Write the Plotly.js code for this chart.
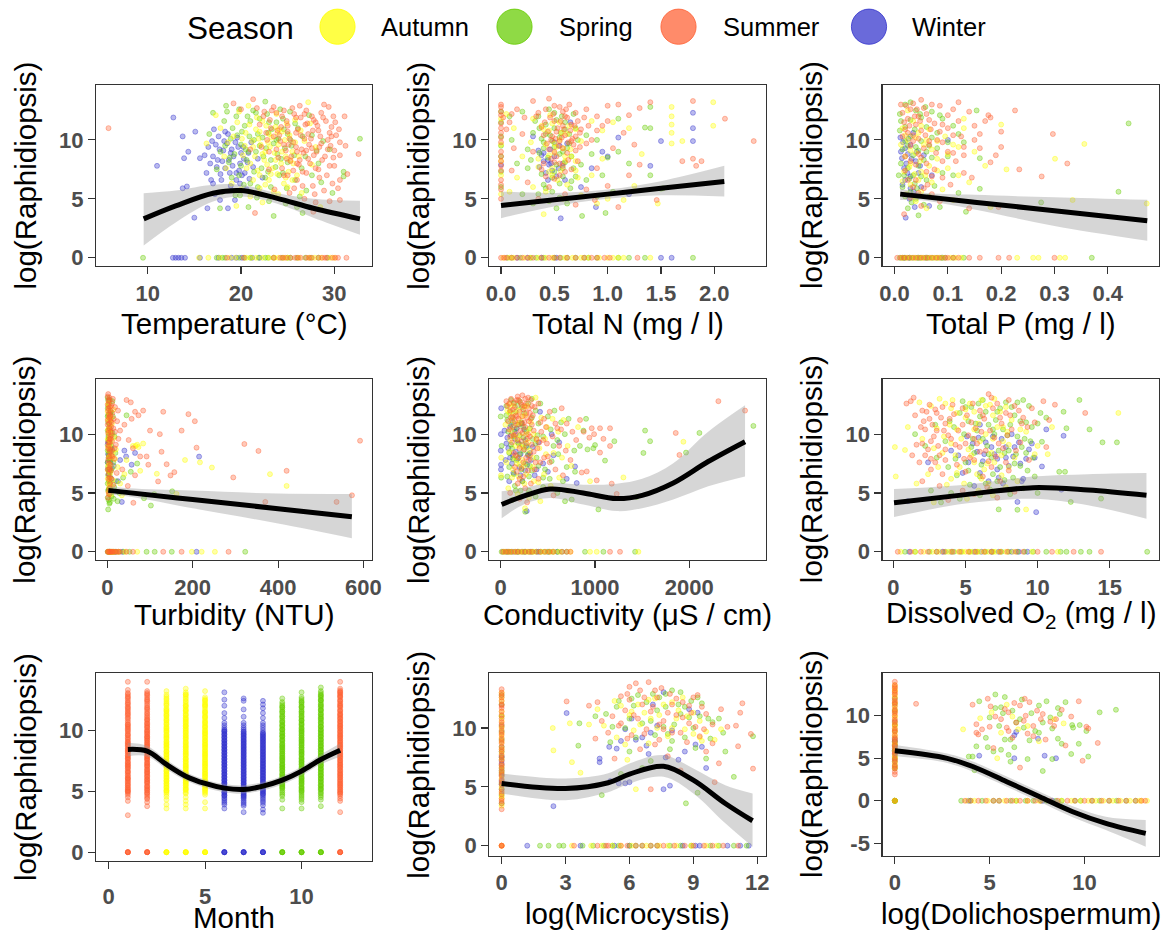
<!DOCTYPE html>
<html>
<head>
<meta charset="utf-8">
<script src="https://cdn.plot.ly/plotly-3.0.1.min.js"></script>
<style>
  html, body { margin: 0; padding: 0; background: #ffffff; }
  #chart { width: 1167px; height: 931px; }
</style>
</head>
<body>
<div id="chart"></div>
<script>
// ---------- Seasons ----------
const seasonNames = ["Autumn", "Spring", "Summer", "Winter"];

// ---------- Temperature (°C) ----------
const tempAutumn = [[27.2,13.2],[17.3,12.1],[19.5,4.4],[27.4,11.4],[17.8,11.0],[18.6,9.8],[19.6,11.5],[20.5,10.6],[21.2,9.9],[22.0,10.7],[22.6,9.0],[23.3,10.2],[24.0,9.6],[24.7,10.0],[25.5,9.0],[26.2,8.6],[20.2,8.7],[21.0,8.0],[21.8,7.4],[22.5,8.3],[23.4,7.6],[24.3,8.0],[25.1,7.3],[26.0,7.0],[19.0,6.3],[20.0,5.8],[21.0,5.2],[22.0,5.9],[23.0,6.6],[24.0,5.4],[25.0,6.0],[26.5,5.5],[18.4,7.6],[19.8,12.4],[23.8,12.2],[25.8,11.7],[28.0,9.4],[22.3,4.7],[27.6,7.9],[16.3,9.7],[18.2,8.6],[28.5,4.3],[20.8,12.9],
  [20.9,11.3],[21.6,10.9],[22.3,11.6],[23.0,10.5],[23.7,11.1],[24.4,10.7],[25.2,10.4],[21.3,9.4],[22.1,9.6],[22.9,9.8],[23.6,8.9],[24.4,9.0],[25.3,8.3],[20.6,7.6],[21.5,8.6],[22.8,7.9],[23.9,7.1],[24.8,6.8],[25.6,8.0],[21.3,6.6],[22.6,6.2],[23.5,5.6],[24.6,6.3],[26.8,9.9],[26.4,10.8],[20.1,10.1],
  [21.7,11.9],[22.7,11.2],[23.9,10.6],[24.9,11.4],[21.9,10.1],[23.1,9.4],[24.1,10.9],[25.8,9.8],[22.3,8.8],[23.7,8.3],[24.8,8.6],[22.0,7.0],[23.2,7.1],[25.5,6.6],[20.4,9.5],[19.2,10.3],
  [15.5,0],[16.5,0],[17.7,0],[18.8,0],[20.6,0],[21.6,0],[22.3,0],[23.0,0],[24.0,0],[25.0,0],[26.2,0],[27.3,0],[28.6,0],[29.6,0],[30.0,0],[19.4,0],[21.1,0],[23.6,0],[24.6,0],[27.9,0]];
const tempSpring = [[32.75,10.1],[31.0,7.3],[31.0,6.9],[23.5,3.55],[26.6,3.8],[20.8,4.3],[17.75,4.2],[22.6,13.25],[21.3,12.5],[25.25,12.4],[17.0,12.3],[18.2,11.6],[19.5,12.0],[20.4,11.2],[22.0,11.8],[23.8,11.5],[24.6,10.9],[26.1,11.0],[27.6,10.4],[28.8,9.9],[17.8,9.0],[18.9,10.1],[20.0,9.6],[21.4,10.0],[22.7,9.3],[23.9,8.8],[25.4,9.5],[26.9,8.6],[28.3,8.0],[29.5,9.2],[17.4,7.5],[18.7,8.1],[19.8,7.0],[21.0,6.3],[22.2,7.6],[23.2,6.0],[24.5,7.2],[25.8,6.6],[27.0,5.7],[28.6,6.4],[18.0,5.6],[19.4,5.3],[21.7,5.1],[23.0,4.8],[24.8,4.6],[26.3,5.2],[29.8,5.5],[16.6,10.5],[20.6,8.3],[22.9,10.6],[25.0,8.1],[27.3,12.1],[26.0,4.3],[24.2,12.6],
  [18.5,12.4],[19.1,11.0],[20.1,10.7],[21.0,11.6],[21.8,10.5],[22.8,12.2],[23.3,10.9],[24.0,10.1],[25.0,10.5],[25.8,11.4],[26.6,10.3],[18.3,9.5],[19.3,8.8],[20.5,9.2],[21.6,9.0],[22.4,8.6],[23.5,9.7],[24.3,8.4],[25.7,8.7],[26.5,7.6],[19.0,6.8],[20.3,6.2],[21.4,7.3],[22.6,6.8],[23.7,7.7],[24.9,5.9],[27.6,7.0],[20.9,5.6],[18.4,12.9],[28.1,9.1],
  [19.8,12.6],[20.7,12.0],[21.6,12.3],[23.0,11.5],[24.5,11.8],[19.6,10.4],[20.9,10.3],[22.3,10.2],[23.8,10.0],[25.3,10.0],[18.8,8.5],[20.8,9.0],[22.0,9.5],[23.2,8.3],[24.7,9.3],[20.0,7.8],[22.9,7.3],[24.1,7.0],[19.9,5.3],[21.8,6.0],
  [9.5,0],[17.4,0],[18.3,0],[19.8,0],[21.0,0],[21.9,0],[22.6,0],[23.5,0],[24.4,0],[25.3,0],[26.0,0],[26.9,0],[27.5,0],[28.3,0],[29.3,0],[18.0,0],[20.4,0],[22.9,0],[25.0,0]];
const tempSummer = [[5.8,11.0],[29.4,12.8],[31.1,12.0],[32.6,8.8],[29.7,11.1],[30.6,8.7],[30.6,6.6],[30.6,4.9],[21.3,13.45],[27.75,3.9],[21.5,3.8],[19.2,13.1],[20.0,12.6],[22.5,12.4],[23.5,12.8],[24.4,12.0],[25.5,12.7],[26.4,11.9],[27.8,11.7],[28.6,12.3],[22.0,11.3],[23.2,11.0],[24.1,10.4],[25.0,11.2],[25.9,10.6],[26.8,10.1],[27.7,10.8],[28.5,10.3],[29.3,10.0],[30.2,10.4],[24.6,9.6],[25.6,9.8],[26.5,9.2],[27.3,9.6],[28.1,9.0],[29.0,8.6],[30.0,9.1],[31.2,9.5],[23.0,9.0],[24.0,8.5],[25.3,8.2],[26.2,7.9],[27.2,8.4],[28.3,7.5],[29.2,7.0],[30.0,7.8],[24.6,7.0],[26.0,6.6],[27.7,6.1],[28.9,5.7],[30.4,5.9],[25.2,5.5],[26.8,5.0],[28.0,4.7],[29.5,4.8],[22.8,10.0],[21.0,9.2],[31.4,7.1],[23.6,5.8],[27.0,12.5],[29.9,12.0],
  [22.4,12.0],[23.1,11.7],[23.8,12.3],[24.9,11.6],[25.7,12.2],[26.3,12.9],[27.1,11.4],[28.2,11.2],[29.1,11.6],[30.1,11.5],[22.7,10.6],[23.5,10.3],[24.3,11.1],[25.2,10.1],[26.1,10.9],[26.9,11.3],[27.5,10.1],[28.3,10.8],[29.5,10.6],[30.5,10.9],[23.8,9.2],[24.8,9.1],[25.9,9.4],[26.7,8.9],[27.6,9.3],[28.6,9.7],[29.6,9.5],[30.6,9.8],[25.4,8.6],[26.3,8.3],[27.4,8.0],[28.7,8.3],[29.9,8.5],[24.4,7.6],[25.6,7.4],[27.0,7.2],[28.4,6.8],[29.8,6.3],[26.6,6.1],[27.9,5.4],[25.7,5.9],[23.0,7.5],[22.2,9.4],[21.7,12.7],[28.9,13.0],
  [23.3,12.5],[24.6,12.5],[25.9,11.9],[26.8,12.2],[27.6,12.0],[28.8,11.9],[23.9,10.8],[25.0,10.7],[26.4,10.4],[27.2,10.5],[28.0,11.5],[29.7,10.3],[24.2,9.9],[25.1,9.6],[26.0,9.0],[27.0,9.1],[28.4,9.4],[29.3,9.2],[24.9,8.4],[26.0,8.0],[27.8,8.7],[29.5,7.8],[25.0,7.0],[26.6,7.3],[28.0,7.6],
  [23.5,0],[24.2,0],[24.8,0],[25.3,0],[25.8,0],[26.4,0],[27.0,0],[27.6,0],[28.3,0],[28.7,0],[29.2,0],[29.8,0],[30.4,0],[31.3,0],[20.3,0],[18.5,0],[24.5,0],[26.1,0],[27.3,0],[29.0,0],[30.1,0]];
const tempWinter = [[12.75,11.9],[11.0,7.8],[13.75,10.3],[14.35,9.0],[15.1,10.7],[13.9,8.45],[15.6,8.45],[13.75,5.9],[14.2,6.05],[15.0,3.4],[16.4,4.2],[16.3,7.2],[17.0,6.3],[17.6,10.3],[18.5,9.7],[19.2,8.6],[19.9,8.0],[20.8,8.9],[18.8,7.2],[19.5,6.6],[17.75,4.9],[18.6,4.2],[17.4,7.7],[20.25,9.4],[21.3,7.7],[18.3,10.7],[17.0,8.6],[19.35,4.9],[20.4,7.2],[16.5,9.4],[18.0,8.2],[19.0,9.2],[21.8,8.4],[17.2,5.4],[20.6,5.8],[22.3,6.8],[16.8,6.6],[19.6,10.2],
  [16.9,9.9],[17.7,9.2],[18.2,9.9],[18.9,8.9],[19.4,9.8],[20.0,8.9],[20.7,8.1],[17.5,8.3],[18.3,7.6],[19.1,7.8],[19.8,7.4],[20.9,6.7],[17.9,6.6],[18.9,6.1],[19.9,6.3],[16.7,8.0],[21.1,9.8],[17.1,10.9],
  [17.3,9.6],[18.6,10.5],[19.7,9.4],[20.3,8.4],[18.1,9.1],[18.7,8.3],[19.5,7.2],[17.8,7.1],[20.1,7.0],[16.1,8.7],
  [12.7,0],[13.0,0],[13.3,0],[13.6,0],[14.0,0],[15.6,0],[17.6,0],[19.0,0],[19.5,0],[20.1,0],[21.2,0],[22.0,0]];
const tempFitX = [9.57, 13, 17, 20, 23.8, 27.75, 32.75];
const tempFit  = [3.3, 4.4, 5.48, 5.7, 5.06, 4.2, 3.3];
const tempLo   = [1.04, 3.0, 4.77, 5.2, 4.6, 3.4, 1.95];
const tempHi   = [5.48, 5.7, 6.19, 6.2, 5.5, 5.0, 4.83];

// ---------- Total N (mg / l) ----------
const nAutumn = [[0,9.6],[0,7.0],[1.99,13.2],[1.99,11.2],[1.7,9.9],[1.6,12.8],[1.6,12.0],[1.6,11.3],[1.6,10.6],[1.6,9.7],[1.47,4.6],[1.32,8.8],[0.4,3.7],[0.05,12.2],[0.12,11.0],[0.3,11.8],[0.45,10.8],[0.55,10.0],[0.65,9.2],[0.75,9.9],[0.85,11.6],[0.95,10.8],[1.05,11.5],[1.2,11.0],[0.2,8.6],[0.35,8.4],[0.48,7.6],[0.6,8.2],[0.7,7.4],[0.85,7.0],[0.15,6.8],[0.3,6.0],[0.42,5.6],[0.58,5.0],[0.75,5.3],[0.9,4.6],[1.0,5.0],[1.15,4.9],[0.08,5.6],[1.25,6.1],[0.5,9.7],[0.95,8.4],
  [0.38,11.2],[0.46,12.1],[0.55,11.5],[0.62,10.5],[0.7,10.9],[0.42,9.6],[0.5,8.9],[0.58,9.3],[0.66,8.6],[0.45,7.3],[0.53,6.6],[0.62,6.2],[0.35,7.7],[0.72,6.8],[0,11.8],[0,8.2],[0,5.4],[0.28,9.8],
  [0.4,10.9],[0.48,11.4],[0.57,10.6],[0.64,11.2],[0.45,8.7],[0.52,9.4],[0.6,8.6],[0.48,7.0],[0.56,7.4],[0.7,8.2],
  [0.02,0],[0.12,0],[0.22,0],[0.35,0],[0.42,0],[0.6,0],[0.75,0],[0.92,0],[1.05,0],[1.15,0],[1.4,0],[0.08,0],[0.27,0],[0.48,0],[0.67,0],[0.82,0],[1.0,0],[1.1,0]];
const nSpring = [[0,11.5],[0,8.6],[0,6.0],[1.5,5.85],[1.4,11.0],[1.35,11.05],[1.4,7.0],[0.98,3.8],[0.76,3.55],[1.4,12.8],[1.1,11.8],[0.2,12.4],[0.35,12.0],[0.42,11.3],[0.5,12.3],[0.6,11.5],[0.7,11.0],[0.8,10.4],[0.9,10.0],[1.0,8.5],[1.1,9.0],[0.3,10.6],[0.4,9.8],[0.5,9.4],[0.58,9.0],[0.66,8.6],[0.75,7.9],[0.85,8.8],[0.95,7.0],[0.1,10.0],[0.15,8.0],[0.25,7.6],[0.38,7.1],[0.48,6.8],[0.55,6.3],[0.65,5.9],[0.8,6.6],[0.9,5.2],[1.05,5.6],[0.2,5.4],[0.3,4.6],[0.45,4.8],[0.52,4.2],[0.62,4.6],[0.7,6.9],[1.2,8.0],[0.25,9.2],[0.08,12.0],[0.56,10.6],[1.52,5.9],
  [0.32,11.6],[0.45,12.6],[0.52,11.7],[0.6,10.9],[0.68,12.2],[0.38,10.1],[0.46,10.4],[0.55,10.2],[0.64,9.7],[0.72,10.0],[0.36,8.9],[0.44,8.5],[0.52,7.9],[0.6,8.1],[0.68,7.6],[0.4,6.2],[0.48,5.6],[0.58,6.9],[0.35,5.4],[0.28,8.3],[0,10.3],[0,12.4],[0,7.3],[0,9.5],
  [0.36,11.0],[0.42,10.5],[0.5,11.0],[0.57,12.0],[0.64,10.5],[0.4,9.3],[0.48,9.9],[0.55,8.8],[0.62,9.3],[0.5,7.3],[0.58,7.6],[0.66,6.5],[0.42,5.9],[0.55,5.1],
  [0.1,0],[0.18,0],[0.28,0],[0.4,0],[0.5,0],[0.62,0],[0.78,0],[0.9,0],[1.1,0],[1.35,0],[1.8,0],[0.06,0],[0.33,0],[0.56,0],[0.7,0],[0.82,0],[1.2,0]];
const nSummer = [[0,12.8],[0,12.1],[0,11.4],[0,10.6],[0,9.8],[0,9.0],[0,8.2],[0,7.4],[0,6.6],[0,5.8],[0,5.0],[0.02,11.9],
  [2.37,9.9],[2.1,11.8],[1.8,13.3],[1.8,8.4],[1.88,8.2],[1.83,7.8],[1.7,8.2],[1.46,4.9],[1.4,13.2],[1.3,12.7],[1.3,7.9],[1.1,4.3],[0.3,13.3],[0.45,13.5],[0.55,12.8],[0.62,11.9],[0.5,11.6],[0.58,11.2],[0.65,10.8],[0.7,12.3],[0.8,12.6],[0.9,12.0],[1.0,12.9],[1.1,13.0],[1.2,12.1],[0.48,10.3],[0.55,9.9],[0.6,10.4],[0.68,9.6],[0.75,10.9],[0.85,10.0],[0.95,11.2],[1.05,9.3],[1.15,10.6],[0.15,12.6],[0.22,11.9],[0.2,10.5],[0.12,9.3],[0.3,9.0],[0.4,8.0],[0.52,8.6],[0.6,7.3],[0.72,8.2],[0.9,7.6],[0.25,6.4],[0.45,6.0],[0.6,5.4],[0.8,5.8],[1.0,6.1],[0.35,5.0],[0.7,4.5],[0.88,4.9],[1.2,7.0],[0.1,7.4],[1.25,9.6],
  [0.35,12.3],[0.42,12.6],[0.5,12.9],[0.58,12.4],[0.64,13.0],[0.72,11.6],[0.38,11.1],[0.46,11.9],[0.53,11.0],[0.6,12.0],[0.66,11.3],[0.78,11.9],[0.4,10.4],[0.47,10.0],[0.52,10.7],[0.57,10.2],[0.63,9.8],[0.7,10.3],[0.8,9.7],[0.45,9.2],[0.54,9.5],[0.62,8.9],[0.7,9.1],[0.5,8.1],[0.58,7.8],[0.66,7.5],[0.42,6.9],[0.55,7.0],[0,13.0],[0,10.2],[0,8.6],[0,6.2],[0,11.0],[0,12.4],[0,7.8],[0.05,10.9],[0.1,12.2],[0.08,11.5],
  [0.33,12.0],[0.41,11.5],[0.49,12.2],[0.56,11.6],[0.61,12.6],[0.69,11.2],[0.44,10.7],[0.51,10.1],[0.59,10.9],[0.67,10.1],[0.74,10.6],[0.43,9.7],[0.5,9.0],[0.58,9.3],[0.66,9.9],[0.74,9.4],[0.47,8.4],[0.55,8.0],[0.63,8.3],[0.5,6.7],[0.38,7.5],[0.82,11.2],[0.9,10.8],[1.0,11.6],
  [0,0],[0.05,0],[0.1,0],[0.2,0],[0.3,0],[0.45,0],[0.55,0],[0.7,0],[0.85,0],[1.28,0],[0.97,0],[0.03,0],[0.15,0],[0.25,0],[0.38,0],[0.5,0],[0.62,0],[0.78,0],[0.9,0],[1.02,0]];
const nWinter = [[1.8,12.3],[1.8,11.0],[1.8,9.9],[1.5,9.9],[1.4,7.8],[0.89,4.3],[0.56,3.35],[0,7.9],[0.4,8.2],[0.45,7.9],[0.42,7.2],[0.5,8.6],[0.55,9.5],[0.6,6.6],[0.35,9.1],[0.95,9.0],[1.0,8.6],[1.1,10.2],[0.75,6.0],[0.85,7.6],[0.3,10.3],[1.2,5.4],[0.65,11.5],
  [0.38,8.7],[0.46,9.2],[0.48,7.4],[0.52,6.9],[0.58,8.0],[0.62,9.7],[0.44,6.6],[0.36,7.7],[0.4,8.9],[0.44,8.3],[0.5,9.8],[0.54,7.6],[0.47,8.0],
  [0.15,0],[0.25,0],[0.38,0],[0.52,0],[1.5,0],[1.6,0]];
const nFitX = [0, 0.5, 1.0, 1.5, 2.094];
const nFit  = [4.43, 4.92, 5.4, 5.89, 6.47];
const nLo   = [3.36, 4.35, 5.0, 5.3, 5.2];
const nHi   = [5.62, 5.5, 5.8, 6.5, 7.8];

// ---------- Total P (mg / l) ----------
const pAutumn = [[0.356,9.66],[0.301,8.4],[0.473,4.6],[0.334,4.9],[0.21,7.5],[0.2,11.3],[0.18,4.3],[0.015,11.0],[0.025,10.0],[0.035,11.6],[0.045,10.6],[0.055,9.6],[0.065,10.9],[0.08,9.9],[0.095,10.3],[0.11,9.6],[0.13,11.0],[0.15,9.0],[0.02,8.6],[0.03,8.0],[0.04,8.9],[0.05,7.3],[0.065,7.8],[0.08,8.4],[0.1,7.6],[0.12,7.0],[0.14,6.4],[0.015,6.5],[0.03,6.2],[0.05,5.6],[0.07,6.4],[0.09,5.8],[0.11,4.9],[0.04,4.8],[0.06,4.2],[0.13,11.8],[0.025,12.5],[0.17,7.8],
  [0.012,9.6],[0.02,10.4],[0.03,9.1],[0.04,10.2],[0.05,11.2],[0.06,10.0],[0.07,9.2],[0.018,7.3],[0.028,7.7],[0.038,7.1],[0.048,8.2],[0.058,7.0],[0.022,5.4],[0.035,5.2],[0.045,6.6],[0.08,7.4],[0.1,8.8],[0.12,9.4],
  [0.015,0],[0.03,0],[0.045,0],[0.06,0],[0.075,0],[0.09,0],[0.105,0],[0.125,0],[0.23,0],[0.26,0],[0.27,0],[0.31,0],[0.32,0],[0.022,0],[0.038,0],[0.052,0],[0.068,0],[0.082,0],[0.115,0]];
const pSpring = [[0.439,11.4],[0.42,5.6],[0.275,4.7],[0.134,3.9],[0.154,12.5],[0.16,8.45],[0.16,5.85],[0.01,12.2],[0.02,13.0],[0.03,13.2],[0.04,12.5],[0.05,11.9],[0.06,11.1],[0.07,12.4],[0.08,10.6],[0.09,11.8],[0.11,11.2],[0.12,10.5],[0.01,10.8],[0.02,9.9],[0.03,10.3],[0.04,9.4],[0.05,9.9],[0.06,9.0],[0.07,8.5],[0.08,9.3],[0.1,8.6],[0.012,8.0],[0.025,7.6],[0.035,7.0],[0.045,7.8],[0.06,6.6],[0.075,6.1],[0.09,7.2],[0.015,6.0],[0.03,5.6],[0.04,5.0],[0.055,4.5],[0.065,5.2],[0.085,4.3],[0.025,4.2],[0.045,3.6],[0.12,5.5],[0.11,7.0],[0.13,9.8],[0.008,7.0],
  [0.012,11.6],[0.02,11.1],[0.03,11.7],[0.038,10.9],[0.048,12.2],[0.058,12.8],[0.015,9.2],[0.025,9.5],[0.035,8.7],[0.045,9.1],[0.055,8.3],[0.065,9.5],[0.018,7.0],[0.028,6.7],[0.038,6.3],[0.05,6.9],[0.02,5.2],[0.032,4.7],[0.042,5.9],[0.07,10.2],[0.085,12.1],[0.1,9.8],
  [0.01,0],[0.02,0],[0.035,0],[0.05,0],[0.065,0],[0.08,0],[0.095,0],[0.11,0],[0.13,0],[0.37,0],[0.015,0],[0.028,0],[0.043,0],[0.058,0],[0.072,0],[0.088,0]];
const pSummer = [[0.297,10.5],[0.324,8.0],[0.276,6.9],[0.226,12.5],[0.234,7.5],[0.2,10.7],[0.19,8.7],[0.18,8.1],[0.176,12.1],[0.195,4.3],[0.14,4.2],[0.12,13.2],[0.17,11.6],[0.15,10.0],[0.13,9.4],[0.11,12.6],[0.1,11.0],[0.09,9.8],[0.085,12.9],[0.07,13.0],[0.06,12.2],[0.05,13.4],[0.045,12.0],[0.04,11.3],[0.03,12.6],[0.025,11.8],[0.02,10.9],[0.015,12.3],[0.035,10.4],[0.05,10.8],[0.065,9.9],[0.075,11.4],[0.085,10.7],[0.1,9.0],[0.115,8.2],[0.13,7.2],[0.145,6.8],[0.16,9.3],[0.125,10.3],[0.03,9.5],[0.045,8.8],[0.06,8.0],[0.075,7.5],[0.09,6.8],[0.02,7.4],[0.04,6.6],[0.055,5.9],[0.07,5.4],[0.085,4.8],[0.03,5.1],[0.05,4.4],[0.018,3.7],[0.105,6.2],[0.2,9.4],[0.18,11.9],
  [0.012,13.0],[0.022,12.9],[0.035,13.1],[0.042,12.6],[0.055,12.7],[0.065,11.7],[0.018,11.5],[0.028,11.2],[0.038,12.0],[0.048,11.6],[0.058,10.4],[0.068,10.9],[0.015,10.3],[0.025,10.6],[0.035,9.9],[0.045,10.1],[0.055,9.3],[0.065,9.6],[0.078,8.9],[0.02,8.6],[0.03,8.2],[0.04,7.9],[0.05,8.5],[0.06,7.3],[0.07,6.9],[0.025,6.6],[0.035,6.0],[0.045,5.5],[0.062,6.2],[0.08,10.0],[0.09,11.3],[0.1,12.1],[0.11,10.4],[0.12,11.6],[0.14,12.4],[0.15,11.2],[0.16,10.5],[0.13,8.7],[0.11,8.9],[0.09,8.2],
  [0.005,0],[0.012,0],[0.025,0],[0.04,0],[0.055,0],[0.07,0],[0.085,0],[0.1,0],[0.12,0],[0.16,0],[0.195,0],[0.215,0],[0.3,0],[0.018,0],[0.033,0],[0.048,0],[0.062,0],[0.078,0],[0.095,0],[0.11,0],[0.14,0]];
const pWinter = [[0.022,8.0],[0.02,9.3],[0.014,8.45],[0.021,3.4],[0.03,6.9],[0.036,5.6],[0.012,9.0],[0.018,7.6],[0.025,8.8],[0.03,9.6],[0.04,8.2],[0.015,6.2],[0.028,5.0],[0.045,7.2],[0.055,8.7],[0.065,4.4],[0.011,10.2],[0.035,10.6],[0.05,6.0],[0.1,10.0],[0.07,7.0],[0.038,4.3],
  [0.016,9.8],[0.024,7.2],[0.032,8.4],[0.042,9.0],[0.02,6.6],[0.03,5.9],[0.026,10.1],[0.048,7.8],
  [0.018,0],[0.028,0],[0.045,0],[0.06,0],[0.09,0]];
const pFitX = [0.0107, 0.05, 0.15, 0.3, 0.474];
const pFit  = [5.4, 5.21, 4.72, 3.99, 3.14];
const pLo   = [4.9, 4.88, 4.1, 2.7, 1.44];
const pHi   = [5.85, 5.54, 5.34, 5.14, 4.92];

// ---------- Turbidity (NTU) ----------
const turbAutumn = [[2,12.6],[4,11.5],[6,10.7],[3,10.0],[8,9.4],[5,8.9],[10,8.0],[2,7.3],[7,6.7],[12,6.1],[4,5.5],[9,4.9],[16,9.7],[20,8.7],[24,7.2],[14,12.1],
  [1,11.9],[3,12.3],[5,11.2],[2,10.4],[4,9.5],[7,10.1],[1,9.0],[3,8.6],[6,8.1],[2,6.9],[5,6.2],[8,5.6],[3,5.0],[11,10.9],[13,8.4],[18,7.9],
  [2,11.2],[4,10.3],[1,9.6],[3,8.0],[5,7.4],[1,6.2],[4,5.8],[6,9.1],[8,11.4],
  [420,5.6],[381,6.6],[245,7.16],[217,7.6],[182,7.8],[162,4.92],[116,6.63],[84,9.2],[73,8.9],[77,6.88],[34,4.8],[66,9.0],[70,9.1],[60,9.0],[30,5.8],[45,7.8],[40,6.6],
  [3,0],[10,0],[16,0],[25,0],[42,0],[70,0],[198,0],[252,0],[221,0],[5,0],[7,0],[13,0]];
const turbSpring = [[1,13.1],[3,12.4],[5,11.8],[2,11.0],[7,10.4],[4,9.6],[9,9.0],[3,8.3],[6,7.7],[11,7.1],[2,6.5],[8,5.9],[4,5.3],[10,4.7],[6,4.2],[2,3.6],[13,11.5],[17,9.8],[19,8.4],[21,6.0],[15,4.5],[12,12.8],
  [1,12.2],[4,12.6],[6,12.9],[2,11.6],[5,10.9],[8,11.3],[1,10.3],[3,9.9],[6,9.3],[1,8.6],[4,8.0],[7,8.5],[2,7.2],[5,6.8],[8,6.9],[1,5.8],[3,5.3],[6,4.9],[3,4.4],[9,11.9],[12,10.1],[14,7.6],[16,5.5],
  [2,12.9],[1,11.5],[4,10.6],[2,9.5],[5,8.7],[1,7.6],[3,6.9],[4,6.0],[2,5.2],[5,4.1],[1,4.6],[7,11.8],[8,10.1],[6,6.4],
  [152,5.14],[102,3.93],[45,11.6],[86,4.55],[37,6.3],[28,5.0],[24,4.3],[55,6.8],[70,7.5],[110,4.9],
  [2,0],[6,0],[11,0],[18,0],[27,0],[38,0],[52,0],[92,0],[111,0],[151,0],[323,0],[1,0],[4,0],[8,0],[15,0]];
const turbSummer = [[2,13.4],[4,12.9],[6,12.3],[3,11.7],[8,11.1],[5,10.5],[10,9.9],[2,9.3],[7,8.7],[12,8.1],[4,7.5],[9,6.9],[6,6.3],[14,5.7],[3,5.1],[11,12.6],[15,11.3],[18,10.2],[20,9.1],[16,7.9],[22,6.7],[25,12.0],[13,13.0],
  [1,12.5],[3,12.2],[5,13.1],[7,12.0],[9,12.4],[1,11.2],[4,10.9],[6,11.5],[8,10.2],[10,11.0],[2,10.1],[5,9.6],[7,9.8],[3,9.0],[6,8.5],[9,8.2],[2,7.8],[5,7.1],[8,7.4],[3,6.6],[6,5.8],[10,6.2],[4,4.9],[18,12.3],[23,11.1],[17,8.8],[26,9.6],[12,11.8],[14,10.5],[11,9.4],
  [1,13.2],[3,12.8],[2,12.0],[4,11.4],[1,10.8],[3,10.3],[5,9.3],[2,8.8],[4,8.1],[1,7.0],[3,6.2],[5,5.4],[2,4.6],[7,11.6],[9,10.6],[8,9.6],[11,8.6],[6,7.0],
  [592,9.44],[573,4.8],[537,4.24],[420,6.88],[370,4.24],[321,9.16],[354,8.57],[295,6.32],[209,8.85],[205,11.1],[190,11.7],[174,10.3],[157,6.77],[148,6.49],[131,11.9],[127,8.5],[139,7.44],[119,5.98],[123,10.0],[100,10.3],[96,7.4],[84,12.0],[73,11.6],[65,11.9],[57,11.3],[55,12.7],[45,12.9],[61,4.16],[65,6.5],[77,8.1],[92,8.1],[30,10.3],[40,10.8],[50,9.5],[35,7.0],[60,8.8],[48,5.6],
  [1,0],[4,0],[8,0],[14,0],[22,0],[30,0],[45,0],[60,0],[174,0],[284,0],[131,0],[2,0],[6,0],[10,0],[12,0],[18,0],[26,0]];
const turbWinter = [[3,9.8],[5,9.0],[2,8.3],[7,7.6],[4,7.0],[9,6.2],[6,5.4],[12,8.7],[15,7.3],
  [2,9.3],[4,8.6],[6,7.9],[3,6.6],[8,8.8],[5,6.1],[1,7.6],[1,9.1],[3,8.0],[2,7.0],[4,9.4],[5,8.3],
  [215,8.09],[65,8.4],[57,7.4],[44,8.1],[34,4.24],[30,7.8],[25,6.0],[40,8.6],
  [5,0],[20,0],[35,0],[209,0]];
const turbFitX = [2.4, 50, 200, 400, 572.8];
const turbFit  = [5.22, 5.03, 4.44, 3.66, 2.98];
const turbLo   = [4.86, 4.7, 3.7, 2.4, 1.15];
const turbHi   = [5.56, 5.4, 5.2, 4.95, 4.92];

// ---------- Conductivity (µS / cm) ----------
const condAutumn = [[1937,9.35],[1301,6.32],[665,11.2],[258,3.7],[947,6.0],[5,8.0],[3,6.5],[50,10.8],[90,11.8],[130,12.4],[190,12.0],[250,12.3],[370,13.1],[430,11.4],[490,10.6],[550,11.3],[610,10.2],[100,9.5],[160,9.0],[220,9.8],[290,9.3],[350,10.0],[410,8.8],[470,9.6],[560,8.4],[650,8.0],[710,9.0],[60,7.6],[130,7.0],[200,7.4],[270,6.6],[340,7.2],[400,5.9],[460,6.6],[530,5.6],[620,6.3],[710,5.2],[80,5.4],[180,4.9],[300,4.6],[420,4.3],[750,7.3],[820,10.6],
  [70,12.0],[120,11.2],[160,10.9],[220,11.5],[280,12.4],[320,11.0],[110,10.3],[170,9.6],[240,8.9],[300,10.4],[380,9.5],[90,8.5],[150,8.0],[230,7.8],[310,8.6],[190,6.4],[250,5.8],[350,6.0],[480,8.3],
  [90,12.5],[140,11.8],[200,11.0],[260,11.6],[130,9.9],[200,9.0],[270,10.0],[170,7.5],[250,7.3],[120,6.3],[340,8.0],
  [40,0],[120,0],[200,0],[280,0],[350,0],[430,0],[520,0],[620,0],[947,0],[1018,0],[1460,0],[80,0],[160,0],[240,0],[320,0],[480,0],[560,0],[740,0]];
const condSpring = [[2679,10.7],[1965,8.43],[2107,10.1],[1531,10.3],[1584,9.4],[1513,8.4],[1442,4.66],[1205,9.4],[1106,7.75],[1036,3.6],[1000,9.07],[982,8.8],[905,11.3],[877,10.3],[788,6.8],[753,4.44],[682,4.3],[0,11.5],[10,9.0],[5,6.3],[60,12.4],[110,12.9],[160,11.9],[230,12.3],[330,13.0],[420,12.6],[500,11.5],[570,12.0],[640,11.0],[80,10.2],[140,9.8],[190,10.8],[260,9.5],[310,10.5],[370,9.2],[450,9.8],[530,10.4],[600,9.5],[680,10.0],[720,11.3],[90,8.4],[170,7.8],[240,8.6],[310,7.3],[380,8.0],[470,7.0],[540,7.7],[610,8.3],[700,7.2],[780,8.6],[70,6.4],[150,5.6],[230,6.0],[300,5.2],[370,4.7],[450,5.5],[520,6.2],[600,5.0],[660,6.0],[120,4.4],[260,3.4],[840,9.0],[920,8.7],
  [60,11.6],[100,11.9],[140,12.6],[200,12.8],[250,11.8],[290,12.6],[370,12.0],[110,10.8],[150,10.4],[200,9.9],[240,10.6],[280,8.9],[340,9.6],[400,10.9],[120,8.8],[200,8.3],[260,7.5],[330,6.9],[400,7.3],[90,7.2],[140,6.6],[210,5.2],[290,4.9],[450,6.3],[560,9.0],
  [70,11.2],[130,11.4],[180,12.4],[220,11.0],[270,10.2],[330,11.4],[110,9.1],[180,9.3],[230,9.1],[290,8.3],[130,7.9],[220,7.0],[160,5.2],[300,6.4],[390,9.9],
  [10,0],[60,0],[110,0],[190,0],[260,0],[340,0],[420,0],[510,0],[600,0],[700,0],[894,0],[1089,0],[1425,0],[30,0],[90,0],[160,0],[230,0],[300,0],[380,0],[460,0],[550,0],[650,0]];
const condSummer = [[2308,12.8],[2591,12.0],[1856,10.1],[1895,8.23],[1159,8.99],[1177,5.79],[1230,4.92],[1089,9.6],[1159,10.5],[1053,8.43],[1053,10.5],[965,10.5],[990,10.0],[1018,6.07],[912,6.83],[841,11.2],[859,6.74],[647,12.2],[60,12.8],[100,12.0],[140,12.7],[180,13.2],[220,12.5],[260,13.0],[300,12.2],[340,11.6],[400,12.6],[460,11.3],[520,11.9],[580,10.9],[640,10.4],[700,10.9],[760,10.2],[80,11.1],[130,10.6],[170,11.5],[210,10.3],[250,11.0],[290,10.0],[330,10.8],[380,9.6],[430,10.2],[490,9.2],[550,9.8],[620,9.0],[690,8.6],[120,9.3],[200,8.8],[270,8.0],[350,8.5],[420,7.6],[500,8.1],[580,7.0],[660,6.5],[150,7.2],[240,6.4],[320,5.8],[400,6.2],[480,5.3],[560,4.8],[100,5.0],[200,4.5],[280,4.2],[740,7.8],[800,9.5],[880,10.2],[940,9.7],
  [70,12.4],[110,13.0],[150,12.3],[190,12.9],[230,13.3],[270,12.6],[320,12.9],[160,11.6],[200,11.9],[240,12.1],[280,11.4],[310,11.8],[360,12.3],[90,10.4],[120,11.5],[180,10.8],[230,11.5],[260,10.6],[300,11.1],[350,10.3],[420,11.0],[100,9.8],[160,10.0],[220,9.4],[280,9.6],[330,9.1],[390,8.8],[450,9.5],[140,8.4],[190,8.0],[250,8.7],[310,8.2],[370,7.6],[460,8.0],[170,6.8],[220,7.1],[290,6.9],[360,7.0],[520,7.6],[180,5.8],[260,5.4],[600,10.5],
  [90,12.6],[130,12.1],[170,12.9],[210,12.7],[250,12.4],[290,13.1],[330,12.4],[110,11.4],[150,11.1],[190,11.3],[230,10.9],[270,11.8],[320,11.3],[140,9.9],[180,9.5],[230,10.1],[270,9.2],[310,9.8],[160,8.2],[240,7.6],[300,7.8],[200,6.2],[410,9.3],[480,10.6],
  [20,0],[80,0],[150,0],[220,0],[300,0],[380,0],[470,0],[560,0],[650,0],[740,0],[1159,0],[1265,0],[50,0],[110,0],[180,0],[260,0],[330,0],[420,0],[520,0],[700,0]];
const condWinter = [[788,7.25],[806,5.84],[559,8.2],[417,11.9],[311,8.4],[276,3.46],[134,6.7],[170,10.5],[3,7.0],[3,7.4],[5,12.2],[2,10.0],[1,8.6],[60,9.2],[100,8.0],[150,9.6],[200,7.2],[230,6.0],[270,9.0],[320,7.8],[360,6.5],[400,9.3],[450,7.5],[500,6.8],[620,9.3],[700,6.2],[90,6.0],[130,11.0],[250,10.4],[540,10.0],
  [40,10.3],[80,8.8],[110,9.9],[160,8.5],[190,9.2],[220,10.9],[280,7.4],[340,8.9],[120,7.5],[210,6.5],[50,7.8],[380,7.0],
  [70,9.7],[100,10.6],[150,10.2],[130,8.2],[180,7.9],[240,9.7],[210,8.3],[290,8.2],[260,6.9],
  [70,0],[180,0],[250,0],[400,0],[600,0],[130,0],[320,0],[500,0]];
const condFitX = [10, 250, 523, 876, 1230, 1500, 1830, 2200, 2591];
const condFit  = [4.02, 4.75, 5.34, 5.0, 4.52, 4.8, 5.85, 7.67, 9.36];
const condLo   = [2.84, 4.05, 4.58, 4.02, 3.46, 3.7, 4.44, 5.56, 6.4];
const condHi   = [5.14, 5.45, 5.85, 5.7, 5.79, 6.2, 7.53, 10.2, 12.45];

// ---------- Dissolved O2 (mg / l) ----------
const o2Autumn = [[15.6,11.8],[9.2,3.6],[11.0,10.6],[10.7,8.3],[0.1,8.9],[0.16,6.4],[0.8,8.65],[1.8,12.7],[2.6,12.4],[3.2,13.0],[4.0,12.2],[5.0,11.4],[5.6,11.9],[6.4,12.4],[7.0,13.0],[7.6,10.6],[8.2,11.2],[9.2,10.2],[2.0,9.6],[2.8,8.8],[3.5,9.8],[4.3,8.2],[5.2,8.7],[6.0,9.4],[6.8,8.4],[7.6,9.4],[8.4,8.0],[9.8,8.3],[2.4,6.6],[3.1,7.2],[4.0,6.2],[4.9,5.8],[5.8,6.6],[6.6,5.8],[7.5,6.5],[8.6,6.0],[1.6,5.8],[2.8,4.2],[5.1,4.5],[6.9,4.8],[10.0,9.0],
  [3.6,12.6],[4.4,11.8],[5.3,12.6],[6.1,12.9],[6.9,11.6],[7.8,12.3],[3.0,10.5],[3.9,10.8],[4.7,9.6],[5.6,10.4],[6.4,10.0],[7.2,10.6],[8.0,9.1],[8.8,10.4],[3.4,8.4],[4.6,7.2],[5.6,7.6],[6.3,7.0],[7.0,7.6],[8.0,7.2],[3.7,5.7],[5.9,5.2],[7.8,5.5],[1.0,10.6],
  [4.1,12.9],[5.0,12.1],[6.7,12.5],[7.4,11.9],[4.4,10.4],[5.9,10.9],[6.9,9.6],[7.9,10.2],[4.0,9.2],[5.4,8.2],[6.5,7.5],[7.5,8.2],[4.4,6.7],[6.1,6.2],
  [0.5,0],[1.5,0],[2.7,0],[3.8,0],[4.5,0],[5.0,0],[5.5,0],[6.0,0],[6.6,0],[7.1,0],[7.8,0],[9.6,0],[11.4,0],[2.1,0],[3.2,0],[4.0,0],[4.8,0],[5.3,0],[5.8,0],[6.3,0],[6.9,0],[7.4,0],[8.3,0]];
const o2Spring = [[12.9,12.9],[11.8,11.9],[12.0,10.5],[13.6,10.4],[14.5,9.3],[15.5,9.3],[11.5,6.8],[11.9,6.8],[12.3,4.24],[14.4,4.52],[8.6,3.57],[10.3,9.35],[1.5,10.0],[2.2,9.0],[3.0,8.0],[3.6,9.4],[4.2,10.6],[4.8,12.8],[5.4,12.3],[6.0,11.5],[6.6,10.8],[7.2,11.9],[7.8,12.7],[8.4,11.6],[9.0,12.9],[9.6,10.6],[10.2,11.8],[3.8,7.2],[4.4,6.5],[5.0,7.6],[5.6,8.4],[6.2,9.6],[6.8,8.0],[7.4,7.2],[8.0,8.6],[8.6,9.8],[9.2,8.4],[9.8,6.4],[4.0,5.0],[4.6,4.5],[5.3,5.7],[6.0,4.8],[6.7,5.3],[7.3,3.6],[8.1,4.9],[9.0,5.4],[10.0,5.0],[2.6,5.2],[3.3,4.2],[5.8,10.3],[7.0,10.0],[8.8,7.3],
  [4.6,11.8],[5.2,11.1],[5.9,12.6],[6.4,11.9],[7.1,11.2],[7.6,10.4],[8.2,12.3],[8.8,11.1],[9.4,12.4],[10.0,10.9],[4.9,10.0],[5.5,9.6],[6.5,9.0],[7.3,8.6],[7.9,9.9],[8.5,8.3],[9.1,9.6],[9.7,8.0],[5.2,6.9],[6.1,7.4],[6.9,6.6],[7.7,6.1],[8.4,7.5],[9.3,6.9],[6.4,5.8],[7.9,5.3],[10.6,11.4],[3.9,11.1],[2.9,10.8],[4.3,7.9],
  [5.0,12.3],[6.2,12.9],[7.4,12.2],[8.6,12.7],[9.2,11.0],[5.7,10.9],[6.9,10.4],[8.1,10.8],[9.5,9.4],[5.4,8.9],[6.6,8.3],[7.7,8.4],[8.9,8.9],[6.0,6.4],[7.2,6.0],[8.3,6.3],
  [0.8,0],[2.5,0],[3.6,0],[4.7,0],[5.8,0],[6.9,0],[8.0,0],[9.1,0],[10.6,0],[11.6,0],[13.0,0],[13.6,0],[17.6,0],[1.5,0],[3.0,0],[4.2,0],[5.3,0],[6.4,0],[7.5,0],[8.6,0],[9.7,0],[12.0,0]];
const o2Summer = [[0.9,12.6],[1.4,13.1],[13.3,11.8],[10.4,12.8],[10.8,11.2],[10.6,8.9],[1.5,11.6],[2.0,12.0],[2.5,11.3],[3.0,11.8],[2.2,10.4],[2.8,9.8],[1.6,9.1],[2.4,8.7],[3.2,8.2],[1.8,7.6],[2.6,7.0],[3.4,6.6],[2.0,6.0],[3.6,10.9],[4.2,11.7],[4.8,12.2],[5.4,11.0],[6.0,12.0],[6.6,13.4],[7.2,12.6],[7.8,11.8],[8.4,12.4],[9.0,11.4],[9.6,12.2],[4.0,9.6],[4.6,8.9],[5.2,9.9],[5.8,9.2],[6.4,8.6],[7.0,9.7],[7.6,8.8],[8.2,10.4],[8.8,9.3],[4.4,7.4],[5.0,6.8],[5.6,7.8],[6.2,6.4],[6.8,7.2],[7.4,6.0],[8.0,6.9],[4.8,5.2],[5.6,4.9],[6.5,5.5],[7.2,4.6],[8.4,5.1],[3.8,4.4],[9.4,7.8],[11.2,12.5],[1.2,12.8],
  [2.3,11.9],[2.9,12.1],[3.3,11.4],[2.7,10.8],[3.5,10.3],[2.1,11.1],[1.9,10.6],[2.6,9.4],[3.1,9.0],[3.8,9.9],[2.2,8.2],[2.9,7.6],[3.6,7.8],[4.5,10.3],[5.1,11.6],[5.7,10.5],[6.3,11.3],[6.9,12.2],[7.5,10.9],[8.1,11.6],[8.7,12.0],[5.0,9.2],[6.1,10.2],[7.3,9.2],[8.5,8.6],[9.3,10.6],[5.3,8.0],[6.6,7.7],[7.8,7.6],[3.2,5.6],[1.3,8.2],[9.8,11.0],[6.8,13.1],[4.1,12.5],
  [2.5,12.5],[3.4,12.3],[2.0,9.2],[3.0,10.3],[3.9,11.3],[4.8,10.8],[5.5,12.6],[6.2,11.6],[7.4,11.4],[8.0,12.9],[4.3,9.1],[5.6,9.6],[6.7,10.3],[7.9,9.9],[8.9,10.9],[3.6,8.7],[4.9,7.9],[6.0,8.5],[7.1,8.1],[2.6,7.9],
  [0.3,0],[1.2,0],[1.9,0],[3.0,0],[4.1,0],[5.2,0],[6.3,0],[7.4,0],[8.5,0],[10.0,0],[12.5,0],[14.4,0],[2.4,0],[3.5,0],[4.6,0],[5.7,0],[6.8,0],[7.9,0],[9.0,0],[11.0,0]];
const o2Winter = [[11.8,9.86],[11.65,5.28],[10.3,7.25],[9.9,3.37],[8.6,4.24],[1.0,4.3],[2.4,7.6],[4.0,8.6],[4.8,6.7],[5.5,9.2],[6.2,7.7],[6.8,8.9],[7.2,7.0],[7.8,8.0],[8.4,8.9],[8.8,7.5],[9.4,8.7],[9.6,9.2],[5.6,5.6],[6.6,6.0],[7.6,5.8],[9.0,6.2],[10.6,10.4],[6.0,10.8],[8.2,10.0],
  [4.5,8.2],[5.2,7.6],[5.8,8.5],[6.4,9.3],[7.0,8.3],[7.5,9.6],[8.0,7.3],[8.7,9.3],[9.2,7.9],[6.0,6.7],[7.3,6.3],[5.1,9.8],[8.9,6.0],[9.8,8.0],
  [5.9,9.7],[6.9,9.8],[7.8,8.9],[8.3,8.1],[6.3,8.3],[7.2,7.9],
  [1.1,0],[3.4,0],[5.6,0],[6.8,0],[8.2,0],[9.3,0],[4.0,0],[6.1,0],[7.3,0],[8.7,0]];
const o2FitX = [0.04, 5, 9.68, 13.5, 17.55];
const o2Fit  = [4.16, 4.86, 5.45, 5.25, 4.8];
const o2Lo   = [2.95, 4.1, 4.5, 3.95, 2.81];
const o2Hi   = [5.34, 5.7, 6.4, 6.6, 6.69];

// ---------- Month ----------
const monthSeason = ["Summer","Summer","Autumn","Autumn","Autumn","Winter","Winter","Winter","Spring","Spring","Spring","Summer"];
const month1Y  = [13.96,13.3,13.05,12.8,12.6,12.3,12.1,11.85,11.5,11.3,11.05,10.8,10.5,10.25,9.95,9.7,9.4,9.2,8.9,8.65,8.35,8.1,7.8,7.55,7.25,7.0,6.7,6.45,6.1,5.9,5.6,5.3,5.0,4.85,4.5,4.2,3.03,
  12.95,12.45,11.95,11.65,11.2,10.65,10.35,10.05,9.55,9.05,8.75,8.5,8.2,7.95,7.65,7.4,7.1,6.85,6.6,6.3,6.0,5.7,5.45,5.15,4.95,4.7,
  12.7,12.2,11.75,11.4,10.95,10.45,10.15,9.85,9.6,9.3,9.0,8.8,8.45,8.25,7.9,7.7,7.35,7.15,6.9,6.55,6.25,6.05,5.8,5.5,5.25,5.05,0,0,0,0,0];
const month2Y  = [13.96,13.2,12.95,12.7,12.45,12.2,11.9,11.7,11.4,11.15,10.9,10.6,10.35,10.05,9.8,9.5,9.3,9.0,8.75,8.45,8.2,7.9,7.65,7.35,7.1,6.8,6.55,6.3,6.0,5.75,5.45,5.2,4.9,4.6,4.35,4.1,3.77,
  13.05,12.55,12.05,11.55,11.05,10.75,10.45,10.2,9.9,9.65,9.4,9.15,8.85,8.6,8.3,8.05,7.75,7.5,7.2,6.95,6.65,6.4,6.15,5.85,5.6,5.3,5.05,4.75,4.45,
  12.85,12.35,11.8,11.3,10.85,10.55,10.25,9.95,9.7,9.45,9.2,8.95,8.7,8.4,8.15,7.85,7.6,7.3,7.05,6.75,6.5,6.2,5.95,5.7,5.4,5.1,4.85,0,0,0,0,0];
const month3Y  = [13.2,12.9,12.6,12.35,12.1,11.8,11.55,11.3,11.0,10.75,10.45,10.2,9.95,9.65,9.4,9.1,8.85,8.6,8.3,8.05,7.8,7.5,7.25,7.0,6.7,6.45,6.2,5.9,5.65,5.4,5.1,4.9,4.55,4.3,3.9,3.58,
  12.75,12.2,11.7,11.4,11.15,10.9,10.6,10.3,10.05,9.8,9.5,9.25,8.95,8.7,8.45,8.2,7.9,7.65,7.4,7.1,6.85,6.6,6.3,6.05,5.8,5.5,5.25,5.0,4.75,
  12.5,12.0,11.6,11.2,10.8,10.5,10.15,9.9,9.6,9.35,9.05,8.8,8.55,8.25,8.0,7.7,7.45,7.2,6.95,6.65,6.4,6.1,5.85,5.6,5.3,5.05,0,0,0,0,0];
const month4Y  = [13.4,13.1,12.8,12.55,12.3,12.0,11.75,11.5,11.2,10.95,10.7,10.4,10.15,9.9,9.6,9.35,9.05,8.8,8.55,8.25,8.0,7.7,7.45,7.2,6.95,6.65,6.4,6.1,5.85,5.6,5.3,5.05,4.8,4.5,4.2,3.9,3.58,
  12.95,12.65,12.15,11.9,11.6,11.35,11.05,10.8,10.55,10.3,10.0,9.75,9.45,9.2,8.9,8.65,8.4,8.1,7.85,7.6,7.3,7.05,6.8,6.5,6.25,5.95,5.7,5.45,5.2,4.9,
  12.9,12.4,12.0,11.65,11.25,10.9,10.6,10.35,10.1,9.8,9.55,9.3,9.0,8.7,8.45,8.2,7.95,7.65,7.4,7.1,6.85,6.55,6.3,6.0,5.75,5.5,5.15,0,0,0,0,0];
const month5Y  = [13.2,12.7,12.4,12.15,11.9,11.6,11.35,11.1,10.8,10.55,10.3,10.0,9.75,9.5,9.2,8.95,8.7,8.4,8.15,7.9,7.6,7.35,7.1,6.8,6.55,6.3,6.0,5.75,5.5,5.2,4.95,4.7,4.1,3.58,
  12.55,12.25,12.0,11.75,11.45,11.2,10.95,10.7,10.4,10.15,9.85,9.6,9.35,9.05,8.8,8.55,8.25,8.0,7.75,7.45,7.2,6.95,6.65,6.4,6.15,5.85,5.6,5.35,5.05,4.85,
  12.45,12.05,11.5,11.05,10.6,10.25,9.95,9.7,9.4,9.15,8.85,8.6,8.35,8.05,7.8,7.55,7.25,7.0,6.75,6.45,6.2,5.9,5.65,5.4,5.15,0,0,0,0,0];
const month6Y  = [13.1,12.5,12.0,11.4,11.0,10.6,10.2,9.95,9.7,9.45,9.2,8.95,8.7,8.45,8.2,7.95,7.7,7.45,7.2,6.95,6.7,6.45,6.2,5.95,5.7,5.45,5.2,4.95,4.7,4.45,4.2,3.9,3.58,
  10.4,10.05,9.85,9.6,9.35,9.1,8.85,8.6,8.35,8.1,7.85,7.6,7.35,7.1,6.85,6.6,6.35,6.1,5.85,5.6,5.35,5.1,4.85,4.6,4.35,4.05,
  9.9,9.65,9.4,9.15,8.9,8.65,8.4,8.15,7.9,7.65,7.4,7.15,6.9,6.65,6.4,6.15,5.9,5.65,5.4,5.15,4.9,4.65,0,0,0,0,0];
const month7Y  = [12.6,12.4,11.7,11.1,10.6,10.2,9.9,9.65,9.4,9.15,8.9,8.65,8.4,8.15,7.9,7.65,7.4,7.15,6.9,6.65,6.4,6.15,5.9,5.65,5.4,5.15,4.9,4.65,4.4,4.1,3.8,3.28,
  10.4,10.05,9.75,9.5,9.25,9.0,8.75,8.5,8.25,8.0,7.75,7.5,7.25,7.0,6.75,6.5,6.25,6.0,5.75,5.5,5.25,5.0,4.75,4.5,4.25,3.95,
  9.85,9.6,9.35,9.1,8.85,8.6,8.35,8.1,7.85,7.6,7.35,7.1,6.85,6.6,6.35,6.1,5.85,5.6,5.35,5.1,4.85,4.6,0,0,0,0,0];
const month8Y  = [12.4,12.1,11.8,11.4,11.0,10.6,10.2,9.8,9.55,9.3,9.05,8.8,8.55,8.3,8.05,7.8,7.55,7.3,7.05,6.8,6.55,6.3,6.05,5.8,5.55,5.3,5.05,4.8,4.5,4.2,3.85,3.5,3.22,
  10.4,10.0,9.65,9.4,9.15,8.9,8.65,8.4,8.15,7.9,7.65,7.4,7.15,6.9,6.65,6.4,6.15,5.9,5.65,5.4,5.15,4.9,4.65,4.35,4.05,
  9.75,9.5,9.25,9.0,8.75,8.5,8.25,8.0,7.75,7.5,7.25,7.0,6.75,6.5,6.25,6.0,5.75,5.5,5.25,5.0,4.75,0,0,0,0,0];
const month9Y  = [12.6,12.3,12.0,11.7,11.4,11.1,10.8,10.5,10.25,10.0,9.7,9.45,9.2,8.9,8.65,8.4,8.1,7.85,7.6,7.3,7.05,6.8,6.5,6.25,6.0,5.7,5.45,5.2,4.9,4.6,4.3,3.58,
  12.15,11.85,11.55,11.25,10.95,10.65,10.35,10.1,9.85,9.55,9.3,9.05,8.75,8.5,8.25,7.95,7.7,7.45,7.15,6.9,6.65,6.35,6.1,5.85,5.55,5.3,5.05,4.75,
  11.9,11.5,11.1,10.7,10.4,10.05,9.75,9.5,9.15,8.85,8.6,8.3,8.05,7.75,7.5,7.2,6.95,6.7,6.4,6.15,5.9,5.6,5.35,0,0,0,0,0];
const month10Y = [13.1,12.7,12.4,12.1,11.85,11.55,11.3,11.0,10.75,10.5,10.2,9.95,9.7,9.4,9.15,8.9,8.6,8.35,8.1,7.8,7.55,7.3,7.0,6.75,6.5,6.2,5.95,5.7,5.4,5.15,4.9,4.6,4.3,4.1,3.58,
  12.55,12.25,11.95,11.7,11.4,11.15,10.85,10.6,10.35,10.05,9.8,9.55,9.25,9.0,8.75,8.45,8.2,7.95,7.65,7.4,7.15,6.85,6.6,6.35,6.05,5.8,5.55,5.25,5.0,4.75,4.45,
  12.3,11.9,11.5,11.1,10.8,10.45,10.15,9.9,9.6,9.35,9.1,8.8,8.55,8.25,8.0,7.7,7.45,7.2,6.9,6.65,6.4,6.1,5.85,5.6,5.3,5.05,0,0,0,0,0];
const month11Y = [13.5,13.2,12.9,12.65,12.4,12.1,11.85,11.6,11.3,11.05,10.8,10.5,10.25,10.0,9.7,9.45,9.2,8.9,8.65,8.4,8.1,7.85,7.6,7.3,7.05,6.8,6.5,6.25,6.0,5.7,5.45,5.2,4.9,4.65,4.3,3.77,
  13.05,12.75,12.5,12.25,11.95,11.7,11.45,11.15,10.9,10.65,10.35,10.1,9.85,9.55,9.3,9.05,8.75,8.5,8.25,7.95,7.7,7.45,7.15,6.9,6.65,6.35,6.1,5.85,5.55,5.3,5.05,4.8,4.5,
  12.85,12.45,12.05,11.65,11.3,10.95,10.6,10.3,10.0,9.75,9.5,9.2,8.95,8.7,8.4,8.15,7.9,7.6,7.35,7.1,6.8,6.55,6.3,6.0,5.75,5.45,5.15,0,0,0,0,0];
const month12Y = [13.96,13.4,13.15,12.9,12.65,12.35,12.1,11.85,11.55,11.3,11.05,10.75,10.5,10.25,9.95,9.7,9.45,9.15,8.9,8.65,8.35,8.1,7.85,7.55,7.3,7.05,6.75,6.5,6.25,5.95,5.7,5.45,5.15,4.9,4.6,4.2,3.28,
  13.25,13.0,12.75,12.5,12.2,11.95,11.7,11.4,11.15,10.9,10.6,10.35,10.1,9.8,9.55,9.3,9.0,8.75,8.5,8.2,7.95,7.7,7.4,7.15,6.9,6.6,6.35,6.1,5.8,5.55,5.3,5.0,4.75,4.4,
  13.1,12.8,12.4,12.0,11.6,11.25,10.95,10.7,10.4,10.15,9.9,9.6,9.35,9.1,8.8,8.55,8.3,8.0,7.75,7.5,7.2,6.95,6.7,6.4,6.15,5.9,5.6,5.35,5.1,4.85,0,0,0,0,0];
const monthFitX = [1,2,3,4,5,6,7,8,9,10,11,12];
const monthFit  = [8.42,8.28,7.19,6.23,5.63,5.25,5.14,5.41,5.9,6.64,7.6,8.36];
const monthLo   = [7.87,7.85,6.8,5.88,5.3,4.92,4.8,5.07,5.55,6.28,7.2,7.82];
const monthHi   = [8.97,8.71,7.58,6.58,5.96,5.58,5.48,5.75,6.25,7.0,8.0,8.9];

// ---------- log(Microcystis) ----------
const microAutumn = [[0,13.0],[0,11.4],[0,10.0],[0,8.8],[0,7.3],[0,6.0],[0,4.5],[0,3.4],[0,12.6],[0,11.0],[0,9.5],[0,8.2],[0,6.8],[0,5.0],[0,4.0],[0,12.3],[0,10.6],[0,9.2],[0,7.8],[0,6.4],[0,5.7],[0,4.2],
  [3.2,10.4],[2.4,10.0],[2.43,8.1],[3.3,7.1],[3.7,6.2],[4.1,10.3],[6.3,4.8],[5.6,11.9],[6.4,12.0],[7.0,10.8],[7.6,12.0],[8.3,11.5],[9.0,11.3],[9.6,9.7],[5.4,9.2],[6.2,9.8],[6.9,8.7],[7.8,9.3],[8.6,9.9],[9.4,8.9],[10.3,9.9],[4.8,10.2],[6.7,11.3],[8.0,10.0],[5.9,7.3],
  [5.3,12.3],[6.1,11.4],[6.9,12.4],[7.4,11.1],[8.0,12.2],[8.7,11.0],[9.3,10.6],[6.5,10.3],[7.3,10.0],[8.2,10.8],[9.0,9.5],[5.8,8.6],[10.0,9.0],[4.5,11.6],[6.0,11.1],[7.2,12.5],[8.5,12.6],[9.3,9.2],
  [0,0],[0,0],[3.3,0],[4.2,0],[5.2,0],[6.1,0],[6.8,0],[7.8,0],[8.9,0],[10.1,0],[4.7,0],[5.6,0],[7.4,0],[8.2,0],[9.6,0]];
const microSpring = [[0,12.0],[0,10.2],[0,8.0],[0,6.6],[0,5.3],[0,3.6],[0,11.0],[0,9.0],[0,7.5],[0,4.8],[0,12.8],[0,9.7],[0,8.4],[0,6.2],[0,4.3],
  [3.65,10.4],[3.6,8.5],[4.7,4.3],[8.65,3.6],[9.2,4.5],[11.8,9.3],[10.4,9.6],[10.9,5.85],[8.4,13.05],[4.9,11.2],[5.4,11.8],[6.2,11.9],[6.8,12.2],[7.4,12.6],[8.0,13.2],[8.9,12.3],[9.3,11.0],[9.7,10.8],[5.8,10.0],[6.6,10.4],[7.2,9.4],[8.1,10.3],[8.6,9.2],[9.1,8.3],[9.6,7.4],[5.1,8.8],[6.0,8.0],[7.0,7.2],[7.9,8.2],[5.6,6.1],[6.6,6.6],[10.5,8.0],[8.8,10.9],[7.7,11.8],
  [5.5,12.3],[6.4,12.8],[7.1,12.9],[7.7,12.9],[8.3,12.0],[9.4,12.1],[6.0,10.8],[7.0,10.6],[7.6,10.1],[8.4,11.2],[9.0,10.0],[9.9,10.5],[5.2,10.1],[6.3,9.2],[8.0,8.9],[9.8,9.1],[4.4,11.0],[10.2,10.8],[6.1,12.5],[7.3,11.5],[8.6,11.8],[9.2,12.6],[7.8,9.5],
  [1.8,0],[2.2,0],[2.7,0],[2.9,0],[3.8,0],[4.8,0],[5.5,0],[6.0,0],[6.6,0],[7.3,0],[8.4,0],[9.8,0],[10.9,0],[11.5,0],[4.3,0],[5.2,0],[6.3,0],[7.0,0],[7.9,0],[8.9,0],[10.2,0]];
const microSummer = [[0,13.3],[0,12.8],[0,12.3],[0,11.7],[0,11.1],[0,10.5],[0,9.8],[0,9.1],[0,8.4],[0,7.7],[0,7.0],[0,6.3],[0,5.6],[0,4.8],[0,4.0],[0,3.1],
  [0,13.0],[0,12.0],[0,10.8],[0,10.1],[0,9.4],[0,8.7],[0,8.0],[0,7.3],[0,6.6],[0,5.9],[0,5.2],[0,4.4],[0,3.6],
  [0,12.6],[0,11.9],[0,11.4],[0,10.3],[0,9.6],[0,8.9],[0,8.2],[0,7.5],[0,6.8],[0,6.1],[0,5.4],[0,4.6],[0,3.8],
  [3.05,12.26],[4.1,11.9],[4.4,9.1],[7.0,4.8],[11.3,12.1],[11.2,11.3],[11.7,9.5],[11.8,6.55],[11.1,8.45],[10.6,10.1],[9.9,10.3],[10.0,5.4],[6.3,13.8],[6.9,13.9],[5.6,12.7],[6.0,12.4],[6.5,13.2],[7.3,12.6],[7.9,12.9],[8.5,12.2],[9.0,12.6],[9.4,11.8],[5.2,11.0],[5.8,11.5],[6.4,10.8],[7.0,11.4],[7.6,10.6],[8.2,11.1],[8.8,10.4],[9.5,9.9],[5.0,9.6],[5.5,10.2],[6.1,9.4],[6.8,9.9],[7.4,9.0],[8.0,9.6],[8.7,8.8],[9.3,9.3],[4.7,10.6],[6.5,8.2],[7.8,7.6],[9.6,8.0],[5.3,7.4],[7.2,8.6],[10.2,7.0],[8.4,6.4],
  [5.9,12.9],[6.7,12.6],[7.5,13.4],[8.2,12.5],[8.8,11.9],[9.2,12.8],[6.2,11.1],[7.1,11.8],[7.8,11.3],[8.5,10.9],[9.1,10.1],[9.6,11.2],[5.6,10.4],[6.7,9.5],[7.6,9.9],[8.4,9.6],[9.9,8.7],[4.5,12.2],[10.3,11.6],[11.0,10.2],
  [6.0,13.5],[7.2,13.2],[8.0,12.0],[6.6,12.0],[8.9,11.3],[7.4,10.3],[5.9,9.1],
  [0,0],[0,0],[0,0],[3.4,0],[4.5,0],[5.0,0],[5.6,0],[6.3,0],[7.0,0],[7.6,0],[8.1,0],[9.5,0],[10.4,0],[4.9,0],[5.9,0],[6.6,0],[7.3,0],[8.6,0],[9.0,0],[9.9,0],[11.1,0]];
const microWinter = [[0,7.2],[0,6.4],[0,5.5],[0,6.9],[0,6.0],[0,7.6],[0,5.2],
  [3.05,11.27],[2.43,3.36],[4.6,7.4],[5.05,8.4],[5.4,8.25],[5.5,5.3],[5.8,5.3],[6.0,5.4],[7.6,4.8],[7.9,5.1],[7.6,13.05],[5.8,9.9],[6.3,9.0],[6.8,8.5],[7.3,10.2],[7.7,7.5],[8.3,7.3],[8.8,11.6],[9.1,8.6],[9.4,8.4],[9.6,6.6],[7.1,12.0],[4.6,7.1],[6.1,10.8],
  [6.6,9.2],[7.0,9.6],[5.6,8.9],[8.0,9.8],[8.6,8.0],[9.2,11.3],[6.9,7.8],[5.1,5.5],
  [1.2,0],[3.7,0],[5.3,0],[9.1,0],[9.3,0],[11.2,0],[11.6,0],[6.0,0],[8.5,0],[10.6,0]];
const microFitX = [0, 3, 5, 6, 7.6, 9, 10.5, 11.78];
const microFit  = [5.29, 4.86, 5.35, 6.08, 6.75, 5.57, 3.59, 2.12];
const microLo   = [4.44, 3.87, 4.55, 5.29, 5.85, 4.44, 1.9, -0.1];
const microHi   = [6.13, 5.71, 6.15, 6.98, 7.69, 6.56, 5.14, 4.44];

// ---------- log(Dolichospermum) ----------
const doliAutumn = [[0,13.6],[0,12.9],[0,12.2],[0,10.8],[0,10.0],[0,8.5],[0,7.7],[0,6.2],[0,5.4],[0,3.9],[0,13.3],[0,11.6],[0,10.4],[0,9.0],[0,8.1],[0,6.8],[0,5.8],[0,4.4],
  [0,13.0],[0,12.5],[0,11.2],[0,9.8],[0,8.8],[0,7.4],[0,6.6],[0,5.1],
  [3.6,8.4],[4.5,9.7],[5.4,5.0],[5.9,11.3],[8.9,9.1],[6.5,8.4],[7.6,7.0],[5.1,10.4],[6.2,9.9],[7.0,8.8],[8.4,9.6],[5.6,8.0],
  [0,0],[0,0],[4.2,0],[5.8,0],[7.0,0],[8.8,0],[9.8,0],[10.6,0],[11.5,0],[12.4,0],[13.0,0],[3.8,0],[4.9,0],[6.4,0],[7.6,0],[9.3,0],[10.2,0],[11.0,0],[11.9,0],[12.9,0],[13.3,0]];
const doliSpring = [[0,12.0],[0,9.3],[0,7.0],[0,4.6],[0,3.8],[0,10.6],[0,8.2],[0,5.2],[0,4.1],[0,11.4],[0,8.9],[0,6.5],[0,5.9],[0,4.9],
  [3.9,5.2],[4.1,5.2],[4.2,3.6],[4.45,11.7],[5.3,12.5],[4.3,6.4],[5.6,6.0],[6.1,4.6],[7.0,4.9],[8.0,11.7],[7.8,3.5],[8.6,10.9],[9.0,11.6],[9.35,8.9],[9.75,8.9],[10.1,8.2],[10.2,5.2],[11.66,10.7],[8.6,7.3],[5.0,9.8],[5.5,8.8],[5.8,7.2],[6.3,6.3],[6.6,9.6],[7.1,7.1],[7.4,8.2],[7.8,9.2],[8.3,8.5],[8.8,6.7],[9.3,5.5],[5.6,11.0],[6.2,10.6],[7.2,10.3],[6.0,5.4],
  [5.3,10.9],[5.7,10.3],[6.4,9.2],[6.8,8.6],[7.6,8.0],[8.2,9.8],[8.7,10.2],[9.4,8.6],[6.1,7.2],[5.2,5.8],[4.9,6.3],[8.3,4.9],[10.8,10.4],[5.8,12.2],[6.7,11.9],[9.7,6.7],[4.8,7.4],[7.6,11.2],
  [0,0],[0,0],[0,0],[0,0],[0,0],[0,0],[3.5,0],[4.0,0],[5.5,0],[6.1,0],[6.9,0],[7.7,0],[8.0,0],[8.5,0],[9.5,0],[10.4,0],[11.3,0],[12.2,0],[4.6,0],[5.2,0],[6.4,0],[7.3,0],[8.8,0],[9.8,0],[10.8,0],[11.7,0],[12.7,0]];
const doliSummer = [[0,14.0],[0,13.2],[0,12.5],[0,11.8],[0,11.1],[0,10.3],[0,9.6],[0,8.9],[0,8.1],[0,7.4],[0,6.6],[0,5.8],[0,5.0],[0,4.2],[0,3.4],
  [0,13.6],[0,12.9],[0,12.1],[0,11.4],[0,10.7],[0,10.0],[0,9.2],[0,8.5],[0,7.7],[0,7.0],[0,6.2],[0,5.4],[0,4.6],[0,3.8],[0,3.1],
  [0,13.4],[0,12.7],[0,11.6],[0,10.5],[0,9.4],[0,8.3],[0,7.2],[0,6.4],[0,5.6],[0,4.8],[0,4.0],
  [1.12,11.4],[4.1,11.3],[4.9,12.0],[5.05,11.1],[4.3,8.0],[4.6,8.4],[5.2,6.2],[6.6,3.9],[6.85,12.0],[7.95,7.2],[8.8,10.7],[9.7,11.7],[10.1,8.7],[9.9,4.7],[10.7,6.8],[9.0,6.5],[5.6,9.6],[6.0,10.4],[6.4,9.2],[6.9,10.0],[7.3,8.8],[7.7,9.6],[6.2,7.4],[7.0,7.9],[5.9,8.6],[6.6,11.2],[7.5,10.6],[8.2,9.3],[5.3,9.9],[4.4,7.8],
  [5.8,10.8],[6.3,11.5],[7.1,11.6],[7.8,10.2],[8.4,8.8],[6.8,9.4],[6.0,8.2],[7.3,7.6],[8.5,9.6],[9.3,9.9],[4.3,9.0],[5.0,8.7],[10.2,8.5],
  [0,0],[3.7,0],[4.4,0],[4.8,0],[5.2,0],[5.9,0],[6.6,0],[7.4,0],[8.2,0],[9.1,0],[10.0,0],[10.9,0],[11.8,0],[12.7,0],[13.2,0],[4.0,0],[5.5,0],[6.2,0],[7.0,0],[7.7,0],[8.6,0],[9.5,0],[10.4,0],[11.3,0],[12.2,0],[13.0,0]];
const doliWinter = [[0,7.0],[0,6.5],[0,5.6],[0,7.3],[0,6.1],[0,6.8],[0,5.9],
  [4.45,5.3],[6.3,5.0],[6.4,8.1],[7.55,7.3],[7.9,5.3],[8.5,5.0],[6.3,7.7],
  [3.9,0],[7.8,0],[8.3,0]];
const doliFitX = [0, 2.76, 4.14, 5.9, 7.64, 9.38, 11.13, 13.23];
const doliFit  = [5.88, 4.99, 4.0, 2.24, 0.47, -1.29, -2.66, -3.84];
const doliLo   = [5.26, 4.45, 3.41, 1.65, -0.12, -1.95, -3.45, -5.41];
const doliHi   = [6.55, 5.55, 4.59, 2.85, 1.06, -0.65, -1.88, -2.27];

// ---------- Axis labels ----------
const yTitle = "log(Raphidiopsis)";
const xTitles = ["Temperature (°C)", "Total N (mg / l)", "Total P (mg / l)",
                 "Turbidity (NTU)", "Conductivity (μS / cm)", "Dissolved O<sub>2</sub> (mg / l)",
                 "Month", "log(Microcystis)", "log(Dolichospermum)"];
const ticksTempX  = [10, 20, 30];
const ticksNX     = [0, 0.5, 1, 1.5, 2];
const ticksPX     = [0, 0.1, 0.2, 0.3, 0.4];
const ticksTurbX  = [0, 200, 400, 600];
const ticksCondX  = [0, 1000, 2000];
const ticksO2X    = [0, 5, 10, 15];
const ticksMonthX = [0, 5, 10];
const ticksMicroX = [0, 3, 6, 9, 12];
const ticksDoliX  = [0, 5, 10];
const ticksY      = [0, 5, 10];
const ticksDoliY  = [-5, 0, 5, 10];
const ticksDoliYText = ["-5", "0", "5", "10"];

// ---------- Build month points by season ----------
const monthYs = [month1Y, month2Y, month3Y, month4Y, month5Y, month6Y, month7Y, month8Y, month9Y, month10Y, month11Y, month12Y];
const monthPts = {Autumn: [], Spring: [], Summer: [], Winter: []};
monthYs.forEach((ys, i) => ys.forEach(y => monthPts[monthSeason[i]].push([i + 1, y])));

// ---------- Styling / geometry ----------
const W = 1167, H = 931;
const FONT = "Liberation Sans, Arial, Helvetica, sans-serif";
const seasonRGB = {Autumn: "255,255,0", Spring: "102,204,0", Summer: "255,96,51", Winter: "51,51,204"};
const px = v => v / W;
const py = v => 1 - v / H;

const COLS = [[96, 372], [489.3, 766], [882.5, 1159]];
const panels = [
  {col: 0, y: [85, 266], xr: [4.46, 34.04], yr: [-0.698, 14.66], xt: ticksTempX, yt: ticksY, titleY: 323.5,
   pts: {Autumn: tempAutumn, Spring: tempSpring, Summer: tempSummer, Winter: tempWinter}, fit: [tempFitX, tempFit, tempLo, tempHi]},
  {col: 1, y: [85, 266], xr: [-0.11, 2.485], yr: [-0.698, 14.66], xt: ticksNX, xfmt: ".1f", yt: ticksY, titleY: 323.5,
   pts: {Autumn: nAutumn, Spring: nSpring, Summer: nSummer, Winter: nWinter}, fit: [nFitX, nFit, nLo, nHi]},
  {col: 2, y: [85, 266], xr: [-0.0225, 0.496], yr: [-0.698, 14.66], xt: ticksPX, xfmt: ".1f", yt: ticksY, titleY: 323.5,
   pts: {Autumn: pAutumn, Spring: pSpring, Summer: pSummer, Winter: pWinter}, fit: [pFitX, pFit, pLo, pHi]},
  {col: 0, y: [379.3, 560], xr: [-26.5, 620], yr: [-0.698, 14.66], xt: ticksTurbX, yt: ticksY, titleY: 614,
   pts: {Autumn: turbAutumn, Spring: turbSpring, Summer: turbSummer, Winter: turbWinter}, fit: [turbFitX, turbFit, turbLo, turbHi]},
  {col: 1, y: [379.3, 560], xr: [-121, 2813], yr: [-0.698, 14.66], xt: ticksCondX, yt: ticksY, titleY: 614,
   pts: {Autumn: condAutumn, Spring: condSpring, Summer: condSummer, Winter: condWinter}, fit: [condFitX, condFit, condLo, condHi]},
  {col: 2, y: [379.3, 560], xr: [-0.76, 18.42], yr: [-0.698, 14.66], xt: ticksO2X, yt: ticksY, titleY: 614,
   pts: {Autumn: o2Autumn, Spring: o2Spring, Summer: o2Summer, Winter: o2Winter}, fit: [o2FitX, o2Fit, o2Lo, o2Hi]},
  {col: 0, y: [673.3, 860.7], xr: [-0.65, 13.65], yr: [-0.7, 14.66], xt: ticksMonthX, yt: ticksY, titleY: 917.5, xstand: 9,
   pts: monthPts, fit: [monthFitX, monthFit, monthLo, monthHi]},
  {col: 1, y: [673.3, 855.7], xr: [-0.58, 12.41], yr: [-0.85, 14.65], xt: ticksMicroX, yt: ticksY, titleY: 913.5,
   pts: {Autumn: microAutumn, Spring: microSpring, Summer: microSummer, Winter: microWinter}, fit: [microFitX, microFit, microLo, microHi]},
  {col: 2, y: [673.3, 855.7], xr: [-0.65, 13.93], yr: [-6.46, 14.99], xt: ticksDoliX, yt: ticksDoliY, ytt: ticksDoliYText, titleY: 913.5,
   pts: {Autumn: doliAutumn, Spring: doliSpring, Summer: doliSummer, Winter: doliWinter}, fit: [doliFitX, doliFit, doliLo, doliHi]}
];

const traces = [];
const layout = {
  width: W, height: H,
  margin: {l: 0, r: 0, t: 0, b: 0},
  paper_bgcolor: "#ffffff", plot_bgcolor: "#ffffff",
  showlegend: false,
  font: {family: FONT, color: "#000000"},
  annotations: [], shapes: []
};

const tickFont = {family: FONT, size: 22, color: "#4D4D4D", weight: 700};
const titleFont = {family: FONT, size: 29.5, color: "#000000"};

panels.forEach((p, i) => {
  const n = i + 1;
  const xa = "x" + n, ya = "y" + n;
  const [x0, x1] = COLS[p.col];
  const [y0, y1] = p.y;

  // scatter points, one trace per season
  ["Winter", "Spring", "Autumn", "Summer"].forEach(s => {
    const pts = p.pts[s];
    traces.push({
      type: "scatter", mode: "markers", xaxis: xa, yaxis: ya,
      x: pts.map(d => d[0]), y: pts.map(d => d[1]),
      marker: {size: 5, color: "rgba(" + seasonRGB[s] + ",0.34)",
               line: {color: "rgba(" + seasonRGB[s] + ",0.4)", width: 1}},
      hoverinfo: "skip", showlegend: false
    });
  });

  // confidence band
  const [fx, fy, flo, fhi] = p.fit;
  traces.push({type: "scatter", mode: "lines", xaxis: xa, yaxis: ya, x: fx, y: flo,
               line: {width: 0, shape: "spline", color: "rgba(0,0,0,0)"}, hoverinfo: "skip", showlegend: false});
  traces.push({type: "scatter", mode: "lines", xaxis: xa, yaxis: ya, x: fx, y: fhi, fill: "tonexty",
               fillcolor: "rgba(153,153,153,0.4)",
               line: {width: 0, shape: "spline", color: "rgba(0,0,0,0)"}, hoverinfo: "skip", showlegend: false});
  // fitted curve
  traces.push({type: "scatter", mode: "lines", xaxis: xa, yaxis: ya, x: fx, y: fy,
               line: {width: 5, shape: "spline", color: "#000000"}, hoverinfo: "skip", showlegend: false});

  const common = {showline: true, mirror: true, linecolor: "#333333", linewidth: 1.2,
                  ticks: "outside", ticklen: 7, tickwidth: 1.1, tickcolor: "#333333",
                  tickfont: tickFont, showgrid: false, zeroline: false, fixedrange: true};
  const xax = Object.assign({}, common, {
    domain: [px(x0), px(x1)], anchor: ya, range: p.xr,
    tickmode: "array", tickvals: p.xt, tickformat: p.xfmt || ""
  });
  if (p.xstand) xax.ticklabelstandoff = p.xstand;
  layout["xaxis" + (n === 1 ? "" : n)] = xax;
  const yax = Object.assign({}, common, {
    domain: [py(y1), py(y0)], anchor: xa, range: p.yr,
    tickmode: "array", tickvals: p.yt
  });
  if (p.ytt) yax.ticktext = p.ytt;
  layout["yaxis" + (n === 1 ? "" : n)] = yax;

  // axis titles
  layout.annotations.push({xref: "paper", yref: "paper", x: px((x0 + x1) / 2), y: py(p.titleY),
    xanchor: "center", yanchor: "middle", showarrow: false, text: xTitles[i], font: titleFont});
  layout.annotations.push({xref: "paper", yref: "paper", x: px(x0 - 71), y: py((y0 + y1) / 2),
    xanchor: "center", yanchor: "middle", showarrow: false, text: yTitle, textangle: -90, font: titleFont});
});

// ---------- Legend ----------
const legendX = {Autumn: [337.5, 379], Spring: [514.5, 557], Summer: [678.5, 721], Winter: [869, 910]};
const legendCY = 26.7, legendR = 17.6;
layout.annotations.push({xref: "paper", yref: "paper", x: px(240), y: py(28), xanchor: "center", yanchor: "middle",
  showarrow: false, text: "Season", font: {family: FONT, size: 31.5, color: "#000000"}});
seasonNames.forEach(s => {
  const [cx, tx] = legendX[s];
  layout.shapes.push({type: "circle", xref: "paper", yref: "paper",
    x0: px(cx - legendR), x1: px(cx + legendR), y0: py(legendCY + legendR), y1: py(legendCY - legendR),
    fillcolor: "rgba(" + seasonRGB[s] + ",0.73)", line: {color: "rgba(" + seasonRGB[s] + ",0.8)", width: 1}});
  layout.annotations.push({xref: "paper", yref: "paper", x: px(tx), y: py(27), xanchor: "left", yanchor: "middle",
    showarrow: false, text: s, font: {family: FONT, size: 25.5, color: "#000000"}});
});

Plotly.newPlot("chart", traces, layout, {staticPlot: true, displayModeBar: false});
</script>
</body>
</html>
